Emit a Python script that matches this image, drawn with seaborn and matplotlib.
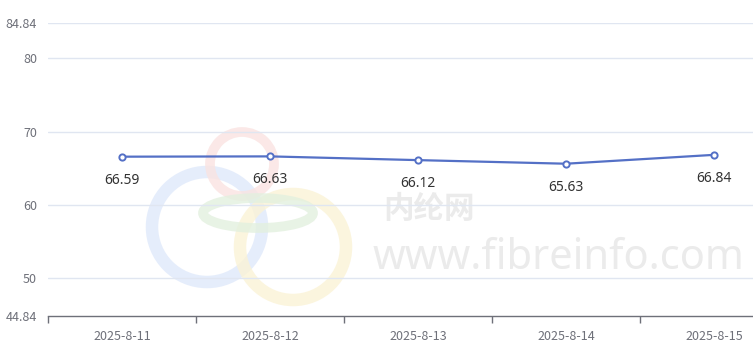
import matplotlib
matplotlib.use("Agg")
import matplotlib.pyplot as plt
import seaborn as sns
import pandas as pd
from matplotlib.patches import Circle, Ellipse

dates = ["2025-8-11", "2025-8-12", "2025-8-13", "2025-8-14", "2025-8-15"]
values = [66.59, 66.63, 66.12, 65.63, 66.84]
y_ticks = [44.84, 50, 60, 70, 80, 84.84]

sns.set_theme(style="white")
plt.rcParams['font.family'] = ['Noto Sans CJK SC', 'DejaVu Sans']

W, H = 753, 350
fig = plt.figure(figsize=(W / 100, H / 100), dpi=100)
left, right, top, bottom = 48, 788, 23, 316
ax = fig.add_axes([left / W, 1 - bottom / H, (right - left) / W, (bottom - top) / H])

# watermark (figure coordinates in pixels)
wm = fig.add_axes([0, 0, 1, 1], zorder=-1)
wm.set_xlim(0, W); wm.set_ylim(H, 0); wm.axis("off")
wm.add_patch(Circle((207, 227), 55, fill=False, lw=9, ec="#dfe9fb", alpha=0.8))
wm.add_patch(Circle((293, 247), 53, fill=False, lw=9, ec="#fbf3d6", alpha=0.8))
wm.add_patch(Circle((242, 164), 32, fill=False, lw=7, ec="#fae3e1", alpha=0.8))
wm.add_patch(Ellipse((258, 213), 110, 30, fill=False, lw=7, ec="#e3f0df", alpha=0.8))
wm.text(429, 209, "内纶网", fontsize=22, color="#ebebeb", ha="center", va="center", fontweight="bold")
wm.text(373, 258, "www.fibreinfo.com", fontsize=30, color="#ebebeb", ha="left", va="center",
        family=["Noto Sans", "DejaVu Sans"])

df = pd.DataFrame({"date": dates, "value": values})
sns.lineplot(data=df, x="date", y="value", ax=ax, color="#5470c6", lw=1.6,
             marker="o", markersize=4.5, markerfacecolor="white",
             markeredgecolor="#5470c6", markeredgewidth=1.4, zorder=3)

for i, v in enumerate(values):
    ax.annotate(f"{v:.2f}", (i, v), xytext=(0, -17), textcoords="offset points",
                ha="center", va="center", fontsize=10, color="#333333",
                family=["Noto Sans", "DejaVu Sans"])

ax.set_xlim(-0.5, len(dates) - 0.5)
ax.set_ylim(44.84, 84.84)
ax.set_yticks(y_ticks)
ax.set_yticklabels([f"{t:g}" for t in y_ticks])
ax.set_xticks(range(len(dates)))
ax.set_xticklabels(dates)
ax.tick_params(axis="x", which="major", bottom=False, length=0, pad=10, labelsize=9, labelcolor="#6e7079")
ax.tick_params(axis="y", length=0, pad=8, labelsize=9, labelcolor="#6e7079")
ax.set_xticks([i - 0.5 for i in range(len(dates) + 1)], minor=True)
ax.tick_params(axis="x", which="minor", bottom=True, length=5, width=1, color="#6e7079", direction="out")
for t in y_ticks[1:]:
    ax.axhline(t, color="#e0e6f1", lw=1, zorder=1)
ax.set_xlabel(""); ax.set_ylabel("")
for s in ["top", "right", "left"]:
    ax.spines[s].set_visible(False)
ax.spines["bottom"].set_color("#6e7079")
ax.spines["bottom"].set_linewidth(1)
ax.patch.set_alpha(0)

fig.savefig("out.png", dpi=100)
